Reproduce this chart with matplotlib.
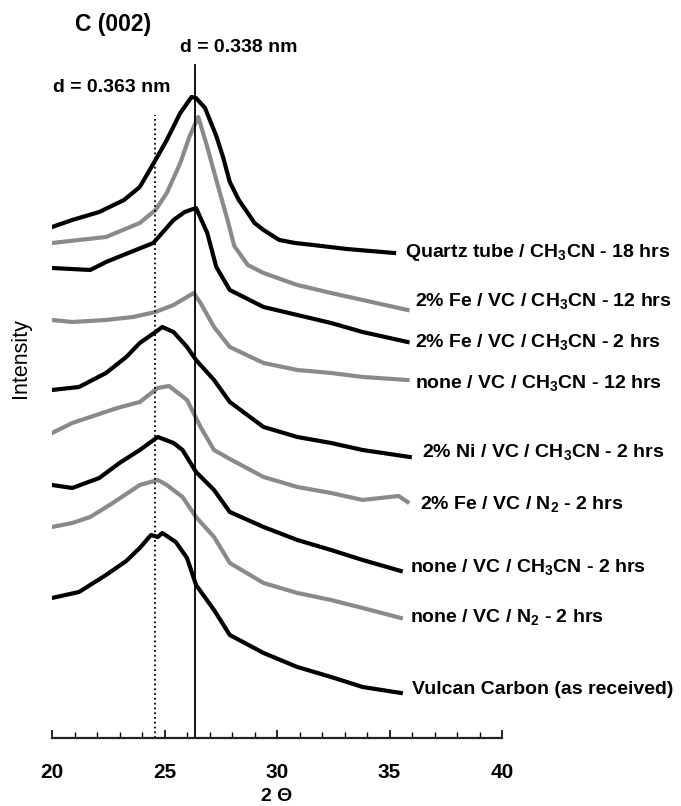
import matplotlib.pyplot as plt
from matplotlib.ticker import MultipleLocator

plt.rcParams['font.family'] = 'Liberation Sans'
plt.rcParams['mathtext.fontset'] = 'custom'
plt.rcParams['mathtext.rm'] = 'Liberation Sans:bold'
plt.rcParams['mathtext.bf'] = 'Liberation Sans:bold'

# stacked XRD traces, 2-theta vs. displayed intensity (offsets already included)
quartz_tt = [20.0, 20.9, 22.1, 23.2, 23.9, 24.6, 25.1, 25.7, 26.2, 26.4, 26.8, 27.3, 27.6, 27.9, 28.3, 28.7, 29.0, 29.4, 30.1, 30.8, 31.6, 33.1, 35.2]
quartz_i  = [511, 518, 526, 538, 551, 578, 598, 625, 641, 640, 630, 602, 581, 556, 538, 525, 515, 508, 498, 495, 493, 489, 485]

fe12_tt = [20.0, 21.2, 22.4, 23.9, 24.6, 25.1, 25.7, 26.1, 26.5, 26.9, 27.3, 27.8, 28.1, 28.7, 29.4, 30.9, 32.4, 33.8, 35.8]
fe12_i  = [495, 498, 501, 515, 528, 545, 575, 601, 621, 591, 558, 518, 492, 473, 465, 453, 445, 438, 428]

fe2_tt = [20.0, 21.7, 22.4, 23.5, 24.5, 25.4, 25.9, 26.4, 26.9, 27.3, 27.9, 29.4, 30.9, 32.4, 33.8, 35.8]
fe2_i  = [470, 468, 476, 486, 495, 518, 526, 530, 505, 471, 448, 431, 423, 415, 406, 396]

none12_tt = [20.0, 20.9, 22.4, 23.6, 24.6, 25.4, 26.3, 26.6, 27.2, 27.9, 29.4, 30.9, 32.4, 33.8, 35.8]
none12_i  = [418, 416, 418, 421, 426, 433, 445, 435, 411, 391, 375, 368, 365, 361, 358]

ni2_tt = [20.0, 21.2, 22.4, 23.3, 23.9, 24.6, 24.9, 25.4, 26.0, 26.4, 27.2, 27.9, 29.4, 30.9, 32.4, 33.8, 35.9]
ni2_i  = [348, 351, 365, 381, 395, 406, 411, 406, 391, 378, 358, 336, 311, 301, 295, 288, 281]

fen2_tt = [20.0, 20.9, 21.7, 22.9, 23.9, 24.7, 25.2, 26.0, 26.6, 27.2, 27.9, 29.4, 30.9, 32.4, 33.8, 35.4, 35.8]
fen2_i  = [305, 315, 321, 330, 336, 350, 352, 338, 311, 288, 279, 261, 251, 245, 238, 242, 236]

none2_tt = [20.0, 20.9, 22.1, 23.0, 23.9, 24.7, 25.4, 25.8, 26.4, 27.2, 27.9, 29.4, 30.9, 32.4, 33.8, 35.5]
none2_i  = [253, 250, 260, 275, 288, 301, 295, 288, 266, 248, 226, 211, 198, 188, 178, 167]

nonen2_tt = [20.0, 20.9, 21.7, 22.7, 23.9, 24.7, 25.1, 25.8, 26.4, 27.2, 27.9, 29.4, 30.9, 32.4, 33.8, 35.5]
nonen2_i  = [211, 215, 221, 235, 253, 258, 253, 241, 221, 201, 175, 155, 145, 138, 130, 120]

vulcan_tt = [20.0, 21.2, 22.4, 23.3, 23.9, 24.4, 24.7, 24.9, 25.5, 26.0, 26.4, 27.2, 27.9, 29.4, 30.9, 32.4, 33.8, 35.5]
vulcan_i  = [140, 146, 163, 177, 190, 203, 201, 205, 196, 180, 153, 128, 103, 85, 71, 61, 51, 45]

labels = ['Quartz tube / CH$_\\mathbf{3}$CN - 18 hrs',
          '2% Fe / VC / CH$_\\mathbf{3}$CN - 12 hrs',
          '2% Fe / VC / CH$_\\mathbf{3}$CN - 2 hrs',
          'none / VC / CH$_\\mathbf{3}$CN - 12 hrs',
          '2% Ni / VC / CH$_\\mathbf{3}$CN - 2 hrs',
          '2% Fe / VC / N$_\\mathbf{2}$ - 2 hrs',
          'none / VC / CH$_\\mathbf{3}$CN - 2 hrs',
          'none / VC / N$_\\mathbf{2}$ - 2 hrs',
          'Vulcan Carbon (as received)']

series = [(quartz_tt, quartz_i), (fe12_tt, fe12_i), (fe2_tt, fe2_i),
          (none12_tt, none12_i), (ni2_tt, ni2_i), (fen2_tt, fen2_i),
          (none2_tt, none2_i), (nonen2_tt, nonen2_i), (vulcan_tt, vulcan_i)]
colors = ['black', '#8a8a8a', 'black', '#8a8a8a', 'black', '#8a8a8a', 'black', '#8a8a8a', 'black']

# label anchor (2-theta, intensity) for each trace
label_x = [35.7, 36.15, 36.15, 36.15, 36.45, 36.35, 35.9, 35.9, 36.0]
label_y = [485, 436, 395, 354, 285, 233, 170, 120, 48]

d_graphite = 26.36
d_turbo = 24.58

fig = plt.figure(figsize=(6.81, 8.06), dpi=100)
ax = fig.add_axes([0.0764, 0.0844, 0.6608, 0.9156])

for (tt, inten), c in zip(series, colors):
    ax.plot(tt, inten, color=c, linewidth=3.0, solid_joinstyle='round', zorder=2)

ax.plot([d_graphite, d_graphite], [0, 673], color='black', linewidth=1.3, zorder=3)
ax.plot([d_turbo, d_turbo], [0, 623], color='black', linewidth=1.3, linestyle=':', zorder=3)

for lab, lx, ly in zip(labels, label_x, label_y):
    ax.text(lx, ly, lab, fontsize=14, fontweight='bold', va='center', ha='left')

ax.text(21.0, 713, 'C (002)', fontsize=16.5, fontweight='bold', va='center')
ax.text(25.7, 690, 'd = 0.338 nm', fontsize=14, fontweight='bold', va='center')
ax.text(20.05, 650, 'd = 0.363 nm', fontsize=14, fontweight='bold', va='center')

ax.set_xlim(20, 40)
ax.set_ylim(0, 738)
ax.xaxis.set_major_locator(MultipleLocator(5))
ax.xaxis.set_minor_locator(MultipleLocator(1))
ax.tick_params(axis='x', which='major', direction='in', length=6, width=1.2, pad=18, labelsize=15)
ax.tick_params(axis='x', which='minor', direction='in', length=4.5, width=1.0)
for t in ax.get_xticklabels():
    t.set_fontweight('bold')
ax.set_yticks([])
for s in ['left', 'top', 'right']:
    ax.spines[s].set_visible(False)
ax.spines['bottom'].set_linewidth(1.6)
ax.spines['bottom'].set_color('#222222')
ax.set_xlabel('2 \u0398', fontsize=14, fontweight='bold', labelpad=4)

fig.text(0.03, 1 - 358 / 806, 'Intensity', rotation=90, fontsize=15.5, ha='center', va='center')

plt.savefig('out.png', dpi=100)
